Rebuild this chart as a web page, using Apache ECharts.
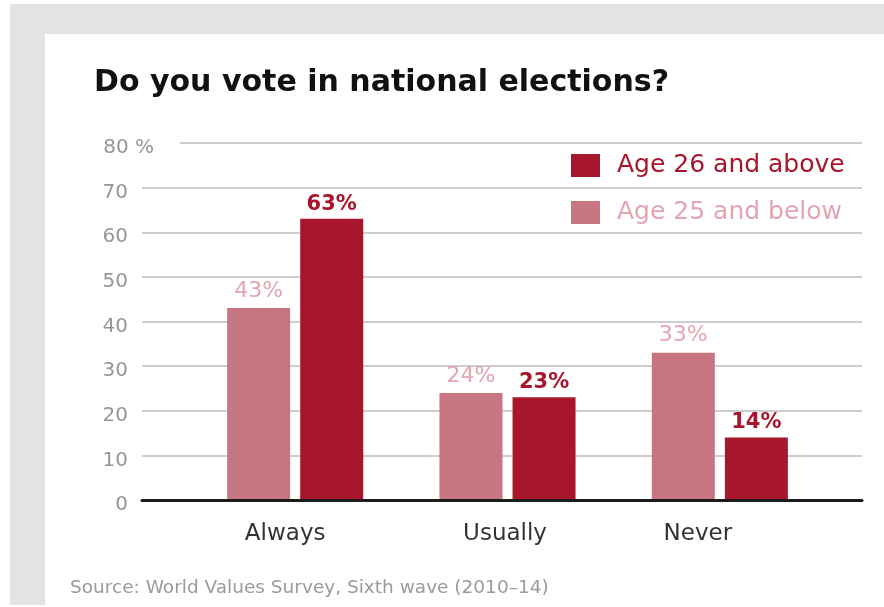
<!DOCTYPE html>
<html><head><meta charset="utf-8">
<script src="https://cdn.jsdelivr.net/npm/echarts@6/dist/echarts.min.js"></script>
<style>
html,body{margin:0;padding:0;background:#fff;}
#frame{position:absolute;left:10px;top:4px;width:874px;height:601px;background:#e2e3e5;}
#panel{position:absolute;left:45px;top:34px;width:839px;height:571px;background:#fff;}
#chart{position:absolute;left:0;top:0;width:884px;height:607px;}
</style></head><body>
<div id="frame"></div><div id="panel"></div><div id="chart"></div>
<script>
const titleText = 'Do you vote in national elections?';
const sourceText = 'Source: World Values Survey, Sixth wave (2010\u201314)';
const categories = ['Always', 'Usually', 'Never'];
const seriesNames = ['Age 25 and below', 'Age 26 and above'];
const age25AndBelow = [43, 24, 33];
const age26AndAbove = [63, 23, 14];
const yMin = 0, yMax = 80, yStep = 10;
const yUnit = ' %';

const DARK = '#a8162e', LIGHT = '#c87582';
const DARK_TXT = '#a8162e', LIGHT_TXT = '#e3a5b1';
const FONT = "'DejaVu Sans', sans-serif";
const catShift = { Always: 20, Usually: 5, Never: 44 };

const chart = echarts.init(document.getElementById('chart'), null, {renderer: 'canvas'});
const catRich = {};
categories.forEach((c, i) => {
  catRich['c' + i] = { fontSize: 23, color: '#333', fontFamily: FONT, padding: [0, catShift[c] || 0, 0, 0] };
});
const tickStyle = { fontSize: 20, color: '#969696', fontFamily: FONT };

chart.setOption({
  animation: false,
  title: [
    { text: titleText, left: 94, top: 68, padding: 0,
      textStyle: { fontFamily: FONT, fontWeight: 'bold', fontSize: 30, color: '#111' } },
    { text: sourceText, left: 70, top: 579, padding: 0,
      textStyle: { fontFamily: FONT, fontWeight: 'normal', fontSize: 18.5, color: '#9a9a9a' } }
  ],
  legend: {
    orient: 'vertical', left: 571, top: 153, padding: 0,
    itemWidth: 29, itemHeight: 23, itemGap: 22, icon: 'rect',
    textStyle: { fontFamily: FONT, fontSize: 25, padding: [0, 0, 0, 12] },
    data: [
      { name: seriesNames[1], textStyle: { color: DARK_TXT } },
      { name: seriesNames[0], textStyle: { color: LIGHT_TXT } }
    ]
  },
  grid: [
    { left: 142, right: 22, top: 143, bottom: 107, containLabel: false },
    { left: 189, right: 58, top: 143, bottom: 107, containLabel: false }
  ],
  xAxis: [
    { gridIndex: 0, type: 'category', data: [''], z: 4,
      axisLine: { show: true, lineStyle: { color: '#1c1c1c', width: 3 } },
      axisTick: { show: false }, axisLabel: { show: false }, splitLine: { show: false } },
    { gridIndex: 1, type: 'category', data: categories,
      axisLine: { show: false }, axisTick: { show: false },
      axisLabel: { margin: 23, formatter: (v) => '{c' + categories.indexOf(v) + '|' + v + '}', rich: catRich } }
  ],
  yAxis: [
    { gridIndex: 0, type: 'value', min: yMin, max: yMax, interval: yStep,
      axisLine: { show: false }, axisTick: { show: false }, axisLabel: { show: false },
      splitLine: { show: true, lineStyle: { color: '#bdbdbd', width: 1.5 } } },
    { gridIndex: 1, type: 'value', min: yMin, max: yMax, interval: yStep, show: false, splitLine: { show: false } },
    { gridIndex: 0, type: 'value', min: yMin, max: yMax, interval: yStep, position: 'left', offset: 0, z: 5,
      axisLine: { show: false }, axisTick: { show: false }, splitLine: { show: false },
      axisLabel: {
        margin: -38, padding: [10, 0, 0, 0],
        formatter: (v) => v === yMax ? '{n|' + v + '}{p|' + yUnit + '}' : '{n|' + v + '}{s|}',
        rich: {
          n: tickStyle,
          s: { width: 52 },
          p: Object.assign({}, tickStyle, { padding: [0, 26, 0, 0], backgroundColor: '#fff' })
        }
      } }
  ],
  series: [
    { name: seriesNames[0], type: 'bar', xAxisIndex: 1, yAxisIndex: 1, data: age25AndBelow,
      barWidth: 63, barGap: '16%', itemStyle: { color: LIGHT },
      label: { show: true, position: 'top', distance: 6, formatter: '{c}%',
        fontFamily: FONT, fontSize: 22, color: LIGHT_TXT } },
    { name: seriesNames[1], type: 'bar', xAxisIndex: 1, yAxisIndex: 1, data: age26AndAbove,
      barWidth: 63, barGap: '16%', itemStyle: { color: DARK },
      label: { show: true, position: 'top', distance: 4, formatter: '{c}%',
        fontFamily: FONT, fontSize: 21, fontWeight: 'bold', color: DARK_TXT } }
  ]
});
</script>
</body></html>
